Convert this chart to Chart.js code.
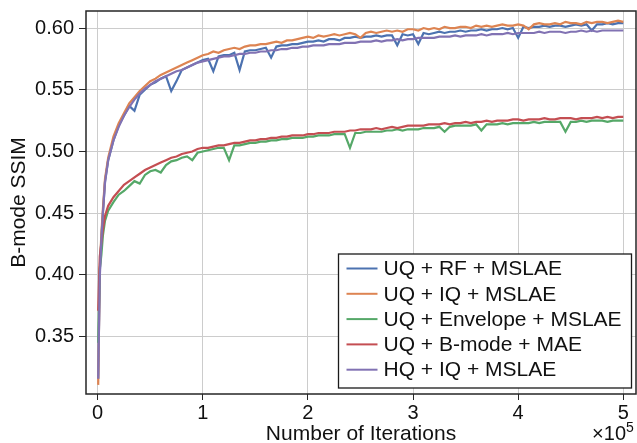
<!DOCTYPE html>
<html>
<head>
<meta charset="utf-8">
<title>B-mode SSIM vs. iterations</title>
<script src="https://cdn.jsdelivr.net/npm/chart.js@4.4.0/dist/chart.umd.min.js"></script>
<style>
  html, body { margin: 0; padding: 0; background: #fff; }
  #chart { display: block; }
</style>
</head>
<body>
<canvas id="chart" width="637" height="443"></canvas>
<script>
// ==========================================
// Data (x in units of 1e5 iterations)
// ==========================================
const iterations = [
  0.005, 0.02, 0.035, 0.05, 0.07, 0.1,
  0.15, 0.2, 0.25, 0.3, 0.35, 0.4, 0.45, 0.5, 0.55, 0.6, 0.65, 0.7, 0.75, 0.8, 0.85, 0.9, 0.95, 1.0,
  1.05, 1.1, 1.15, 1.2, 1.25, 1.3, 1.35, 1.4, 1.45, 1.5,
  1.55, 1.6, 1.65, 1.7, 1.75, 1.8, 1.85, 1.9, 1.95, 2.0,
  2.05, 2.1, 2.15, 2.2, 2.25, 2.3, 2.35, 2.4, 2.45, 2.5,
  2.55, 2.6, 2.65, 2.7, 2.75, 2.8, 2.85, 2.9, 2.95, 3.0,
  3.05, 3.1, 3.15, 3.2, 3.25, 3.3, 3.35, 3.4, 3.45, 3.5,
  3.55, 3.6, 3.65, 3.7, 3.75, 3.8, 3.85, 3.9, 3.95, 4.0,
  4.05, 4.1, 4.15, 4.2, 4.25, 4.3, 4.35, 4.4, 4.45, 4.5,
  4.55, 4.6, 4.65, 4.7, 4.75, 4.8, 4.85, 4.9, 4.95, 5.0
];

const rfMslae = [
  0.316, 0.402, 0.430, 0.451, 0.476, 0.493,
  0.509, 0.521, 0.529, 0.537, 0.533, 0.546, 0.550, 0.554, 0.556, 0.559, 0.561, 0.549, 0.557, 0.566, 0.568, 0.570, 0.572, 0.574,
  0.575, 0.565, 0.577, 0.578, 0.578, 0.580, 0.566, 0.581, 0.582, 0.582,
  0.583, 0.584, 0.576, 0.585, 0.586, 0.586, 0.587, 0.587, 0.588, 0.589,
  0.589, 0.590, 0.589, 0.591, 0.591, 0.590, 0.592, 0.592, 0.593, 0.592,
  0.593, 0.593, 0.594, 0.593, 0.594, 0.594, 0.586, 0.595, 0.594, 0.595,
  0.587, 0.596, 0.595, 0.596, 0.597, 0.596, 0.597, 0.597, 0.598, 0.597,
  0.598, 0.598, 0.599, 0.598, 0.599, 0.599, 0.600, 0.599, 0.600, 0.592,
  0.601, 0.600, 0.601, 0.601, 0.602, 0.601, 0.602, 0.602, 0.601, 0.602,
  0.603, 0.602, 0.603, 0.598, 0.603, 0.603, 0.604, 0.603, 0.604, 0.604
];

const iqMslae = [
  0.311, 0.405, 0.433, 0.454, 0.478, 0.495,
  0.512, 0.523, 0.531, 0.539, 0.544, 0.549, 0.553, 0.557, 0.559, 0.562, 0.564, 0.566, 0.568, 0.570, 0.572, 0.574, 0.576, 0.578,
  0.579, 0.581, 0.580, 0.582, 0.583, 0.584, 0.583, 0.585, 0.586, 0.586,
  0.587, 0.587, 0.588, 0.589, 0.588, 0.590, 0.590, 0.591, 0.592, 0.593,
  0.592, 0.594, 0.593, 0.594, 0.595, 0.594, 0.595, 0.596, 0.595, 0.592,
  0.596, 0.597, 0.596, 0.597, 0.598, 0.597, 0.598, 0.597, 0.599, 0.599,
  0.598, 0.600, 0.599, 0.600, 0.599, 0.601, 0.600, 0.600, 0.601, 0.601,
  0.600, 0.602, 0.601, 0.602, 0.601, 0.602, 0.603, 0.602, 0.602, 0.603,
  0.602, 0.599, 0.603, 0.604, 0.603, 0.603, 0.604, 0.603, 0.605, 0.604,
  0.604, 0.603, 0.605, 0.604, 0.605, 0.605, 0.604, 0.605, 0.606, 0.605
];

const envelopeMslae = [
  0.345, 0.405, 0.416, 0.432, 0.444, 0.452,
  0.459, 0.465, 0.468, 0.472, 0.476, 0.474, 0.481, 0.484, 0.485, 0.483, 0.489, 0.492, 0.493, 0.495, 0.496, 0.493, 0.499, 0.500,
  0.501, 0.502, 0.503, 0.503, 0.493, 0.505, 0.505, 0.506, 0.507, 0.507,
  0.508, 0.508, 0.509, 0.509, 0.510, 0.510, 0.511, 0.511, 0.511, 0.512,
  0.512, 0.513, 0.513, 0.513, 0.514, 0.514, 0.514, 0.503, 0.515, 0.515,
  0.516, 0.516, 0.516, 0.516, 0.517, 0.517, 0.518, 0.517, 0.518, 0.518,
  0.518, 0.519, 0.519, 0.519, 0.520, 0.516, 0.520, 0.521, 0.521, 0.521,
  0.521, 0.522, 0.517, 0.522, 0.522, 0.522, 0.523, 0.522, 0.523, 0.523,
  0.523, 0.523, 0.524, 0.523, 0.524, 0.524, 0.524, 0.524, 0.516, 0.524,
  0.524, 0.525, 0.524, 0.525, 0.525, 0.525, 0.524, 0.525, 0.525, 0.525
];

const bmodeMae = [
  0.371, 0.415, 0.426, 0.437, 0.448, 0.456,
  0.463, 0.468, 0.473, 0.476, 0.479, 0.482, 0.485, 0.487, 0.489, 0.491, 0.493, 0.495, 0.496, 0.498, 0.499, 0.500, 0.502, 0.503,
  0.503, 0.504, 0.505, 0.505, 0.506, 0.507, 0.507, 0.508, 0.509, 0.509,
  0.510, 0.510, 0.511, 0.511, 0.512, 0.512, 0.513, 0.513, 0.513, 0.514,
  0.514, 0.515, 0.515, 0.515, 0.516, 0.516, 0.516, 0.517, 0.517, 0.518,
  0.518, 0.518, 0.519, 0.518, 0.519, 0.520, 0.519, 0.520, 0.521, 0.521,
  0.521, 0.521, 0.522, 0.522, 0.522, 0.523, 0.522, 0.523, 0.523, 0.524,
  0.523, 0.524, 0.524, 0.525, 0.524, 0.525, 0.525, 0.525, 0.526, 0.526,
  0.525, 0.526, 0.526, 0.526, 0.527, 0.526, 0.526, 0.527, 0.527, 0.527,
  0.526, 0.527, 0.527, 0.527, 0.528, 0.527, 0.528, 0.527, 0.528, 0.528
];

const hqIqMslae = [
  0.316, 0.398, 0.428, 0.450, 0.475, 0.493,
  0.509, 0.520, 0.529, 0.536, 0.542, 0.547, 0.551, 0.554, 0.557, 0.559, 0.561, 0.563, 0.565, 0.566, 0.568, 0.570, 0.572, 0.573,
  0.574, 0.575, 0.576, 0.577, 0.577, 0.578, 0.579, 0.579, 0.580, 0.580,
  0.581, 0.581, 0.582, 0.582, 0.583, 0.583, 0.584, 0.584, 0.585, 0.585,
  0.586, 0.586, 0.586, 0.587, 0.587, 0.587, 0.588, 0.588, 0.588, 0.589,
  0.589, 0.589, 0.590, 0.589, 0.590, 0.590, 0.591, 0.590, 0.591, 0.591,
  0.592, 0.592, 0.592, 0.592, 0.593, 0.593, 0.593, 0.594, 0.593, 0.594,
  0.594, 0.594, 0.595, 0.594, 0.595, 0.595, 0.595, 0.596, 0.595, 0.596,
  0.596, 0.596, 0.596, 0.597, 0.596, 0.597, 0.597, 0.597, 0.596, 0.597,
  0.597, 0.598, 0.597, 0.598, 0.597, 0.598, 0.598, 0.598, 0.598, 0.598
];

const seriesLabels = [
  'UQ + RF + MSLAE',
  'UQ + IQ + MSLAE',
  'UQ + Envelope + MSLAE',
  'UQ + B-mode + MAE',
  'HQ + IQ + MSLAE'
];

const xTicks = [0, 1, 2, 3, 4, 5];
const yTicks = [0.35, 0.40, 0.45, 0.50, 0.55, 0.60];

// ==========================================
// Chart setup
// ==========================================
const FONT = "'Liberation Sans', Arial, Helvetica, sans-serif";
const INK = '#111111';
const SPINE = '#262626';
const GRID = '#cccccc';

Chart.defaults.font.family = FONT;
Chart.defaults.color = INK;

const seriesValues = [rfMslae, iqMslae, envelopeMslae, bmodeMae, hqIqMslae];
const seriesColors = ['#4c72b0', '#dd8452', '#55a868', '#c44e52', '#8172b3'];

const toPoints = vals => iterations.map((x, i) => ({ x: x, y: vals[i] }));

// later series sit on top, like the original plot order
const datasets = seriesValues.map((vals, i) => ({
  label: seriesLabels[i],
  data: toPoints(vals),
  borderColor: seriesColors[i],
  backgroundColor: seriesColors[i],
  borderWidth: 2.2,
  pointRadius: 0,
  tension: 0,
  fill: false,
  order: seriesValues.length - 1 - i
}));

// frame, boxed legend and the x10^5 offset label
const decorations = {
  id: 'decorations',
  afterDatasetsDraw(chart) {
    const { ctx, chartArea } = chart;
    ctx.save();

    ctx.strokeStyle = SPINE;
    ctx.lineWidth = 1.5;
    ctx.strokeRect(chartArea.left, chartArea.top, chartArea.right - chartArea.left, chartArea.bottom - chartArea.top);

    // legend box
    const box = { left: 338.5, top: 254, width: 293, height: 134 };
    ctx.fillStyle = '#ffffff';
    ctx.fillRect(box.left, box.top, box.width, box.height);
    ctx.strokeStyle = '#1a1a1a';
    ctx.lineWidth = 1.3;
    ctx.strokeRect(box.left, box.top, box.width, box.height);

    ctx.font = '21px ' + FONT;
    ctx.textBaseline = 'middle';
    ctx.textAlign = 'left';
    chart.data.datasets.forEach((ds, i) => {
      const y = box.top + 14.5 + i * 25.3;
      ctx.strokeStyle = ds.borderColor;
      ctx.lineWidth = 2;
      ctx.beginPath();
      ctx.moveTo(box.left + 8, y);
      ctx.lineTo(box.left + 39, y);
      ctx.stroke();
      ctx.fillStyle = INK;
      ctx.fillText(ds.label, box.left + 45, y + 1);
    });

    // axis offset text
    ctx.textBaseline = 'alphabetic';
    ctx.textAlign = 'right';
    ctx.font = '20px ' + FONT;
    ctx.fillText('×10', 626, 440);
    ctx.textAlign = 'left';
    ctx.font = '14px ' + FONT;
    ctx.fillText('5', 626, 432);

    ctx.restore();
  }
};

const fixTicks = values => scale => {
  scale.ticks = values.map(v => ({ value: v }));
};

new Chart(document.getElementById('chart'), {
  type: 'line',
  data: { datasets: datasets },
  plugins: [decorations],
  options: {
    responsive: false,
    animation: false,
    devicePixelRatio: 1,
    layout: { padding: { top: 11, right: 1, left: 0, bottom: 0 } },
    plugins: {
      legend: { display: false },
      title: { display: false },
      tooltip: { enabled: false }
    },
    scales: {
      x: {
        type: 'linear',
        min: -0.111,
        max: 5.121,
        afterBuildTicks: fixTicks(xTicks),
        afterFit(scale) {
          scale.height = 49;
          scale.paddingLeft = 0;
          scale.paddingRight = 0;
        },
        border: { display: false },
        grid: { color: GRID, lineWidth: 1, tickColor: SPINE, tickLength: 6 },
        ticks: {
          padding: 1,
          maxRotation: 0,
          font: { size: 20 },
          color: INK,
          callback: v => String(v)
        },
        title: {
          display: true,
          text: 'Number of Iterations',
          font: { size: 21 },
          color: INK,
          padding: { top: 0, bottom: -4 }
        }
      },
      y: {
        type: 'linear',
        min: 0.3036,
        max: 0.6138,
        afterBuildTicks: fixTicks(yTicks),
        afterFit(scale) {
          scale.width = 86;
          scale.paddingTop = 0;
          scale.paddingBottom = 0;
        },
        border: { display: false },
        grid: { color: GRID, lineWidth: 1, tickColor: SPINE, tickLength: 7 },
        ticks: {
          padding: 5,
          font: { size: 20 },
          color: INK,
          callback: v => v.toFixed(2)
        },
        title: {
          display: true,
          text: 'B-mode SSIM',
          font: { size: 21 },
          color: INK,
          padding: { top: 7, bottom: 0 }
        }
      }
    }
  }
});
</script>
</body>
</html>
